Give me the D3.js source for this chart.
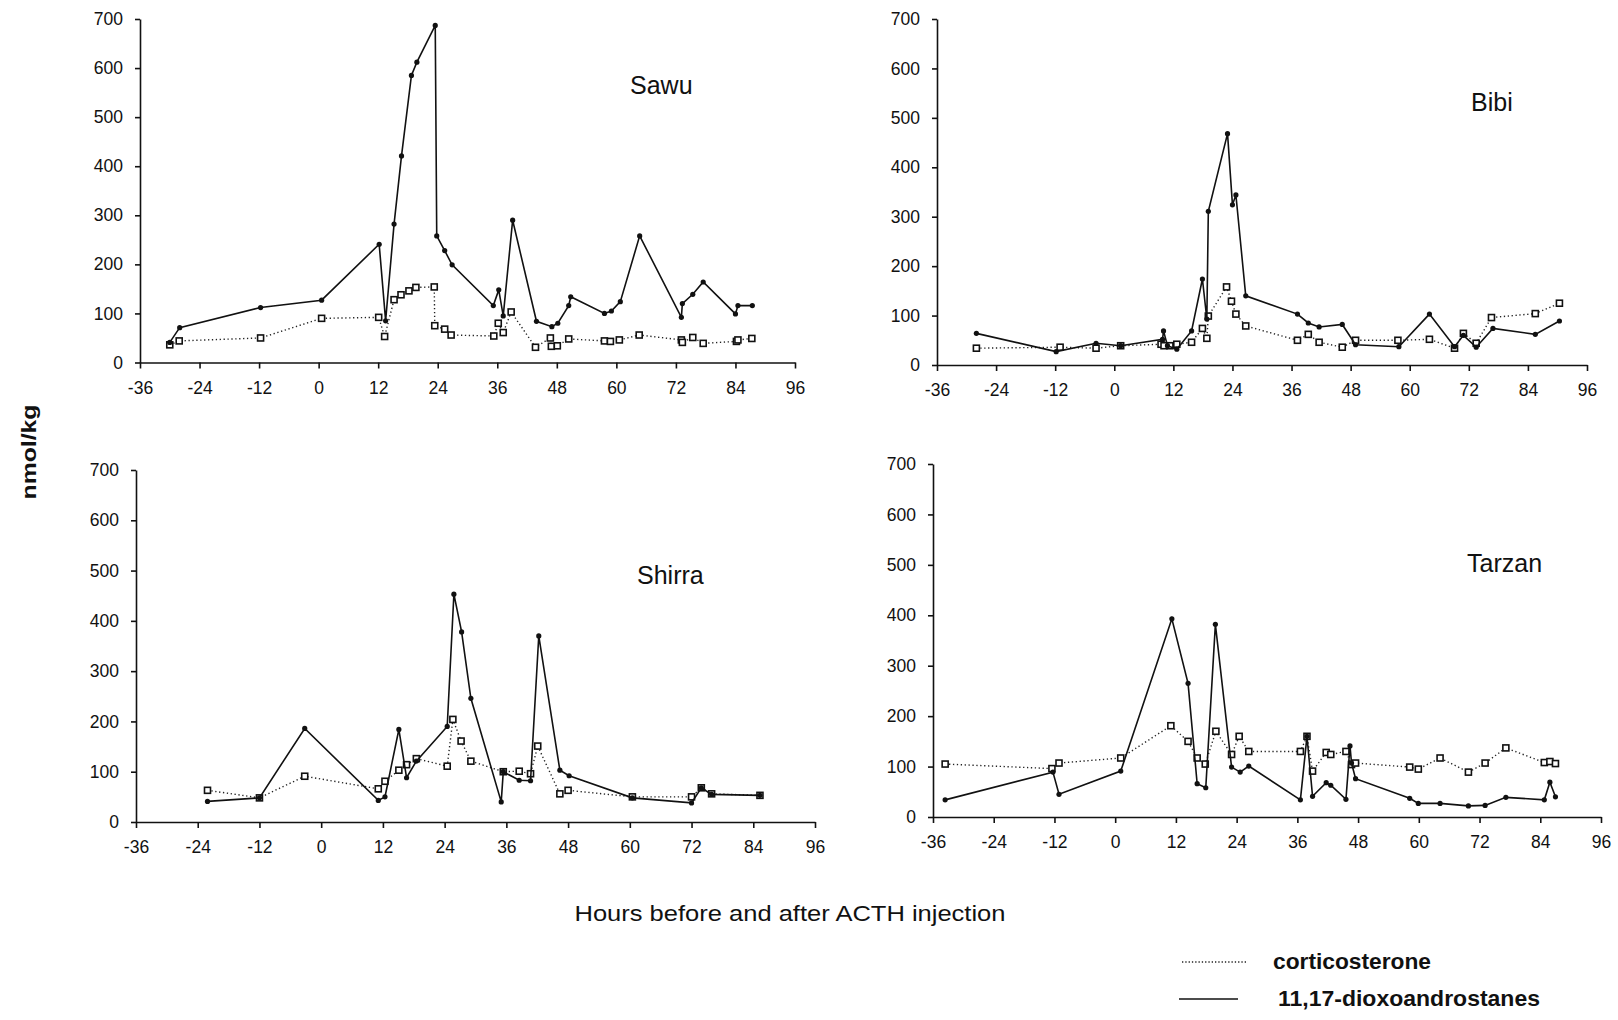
<!DOCTYPE html>
<html>
<head>
<meta charset="utf-8">
<script src="https://cdn.jsdelivr.net/npm/d3@7"></script>
<style>
	body { margin: 0; background: #fff; }
	text { font-family: "Liberation Sans", Arial, sans-serif; fill: #111; }
</style>
</head>
<body>
<svg id="chart" width="1618" height="1020"></svg>
<script>
"use strict";

/* global d3 */

// Tick labels
var hourTicks = [-36, -24, -12, 0, 12, 24, 36, 48, 60, 72, 84, 96];
var valueTicks = [0, 100, 200, 300, 400, 500, 600, 700];

// [hours, nmol/kg]
var sawuCort = [[-30,36],[-28.1,44],[-11.7,50],[0.6,90],[12.1,92],[13.3,53],[15.2,128],[16.6,138],
	[18.2,146],[19.6,153],[23.3,154],[23.4,75],[25.4,68],[26.7,56],[35.3,54],[36.2,80],[37.2,61],
	[38.8,103],[43.7,31],[46.7,50],[46.9,33],[48.1,34],[50.4,48],[57.6,44],[58.8,43],[60.6,46],
	[64.6,56],[73.1,46],[73.3,41],[75.4,51],[77.5,39],[84.2,43],[84.5,46],[87.3,49]];
var sawuAndro = [[-30,41],[-28,71],[-11.7,112],[0.6,127],[12.2,241],[13.5,85],[15.2,282],[16.7,421],
	[18.7,585],[19.8,612],[23.5,687],[23.8,258],[25.4,228],[26.9,199],[35.2,116],[36.3,148],[37.2,95],
	[39.1,290],[43.9,84],[47,73],[48.2,80],[50.4,116],[50.8,134],[57.6,100],[59,105],[60.8,124],
	[64.7,258],[73.1,92],[73.3,120],[75.4,139],[77.5,164],[84,99],[84.5,116],[87.4,116]];

var bibiCort = [[-28,34],[-11,36],[-3.7,34],[1.3,39],[9.5,42],[10.1,39],[11.3,39],[12.7,42],[15.7,46],
	[17.9,74],[18.8,54],[19.1,99],[22.8,158],[23.8,129],[24.7,103],[26.7,79],[37.2,50],[39.4,62],
	[41.6,46],[46.3,36],[49,50],[57.6,50],[64,52],[69.1,34],[70.9,64],[73.5,44],[76.6,96],[85.5,104],
	[90.4,125]];
var bibiAndro = [[-28,64],[-11.8,27],[-3.7,44],[1.3,39],[9.8,52],[10,69],[10.8,39],[12.7,32],[15.7,69],
	[17.9,174],[18.8,93],[19.1,311],[23,468],[24,324],[24.7,344],[26.7,140],[37.2,103],[39.4,85],
	[41.6,77],[46.3,82],[49,41],[57.8,37],[64,103],[69.1,37],[70.9,60],[73.5,36],[76.9,74],[85.5,62],
	[90.4,89]];

var shirraCort = [[-22.1,63],[-12,48],[-3.2,91],[11.1,66],[12.4,81],[15.1,103],[16.6,114],[18.5,126],
	[24.5,111],[25.6,204],[27.2,161],[29.1,121],[35.4,100],[38.5,101],[40.7,96],[42.1,151],[46.4,56],
	[48,63],[60.5,50],[72,50],[73.9,68],[75.9,56],[85.3,53]];
var shirraAndro = [[-22.1,41],[-12,48],[-3.2,186],[11.1,43],[12.4,50],[15.1,184],[16.6,88],[18.5,121],
	[24.5,190],[25.8,453],[27.3,378],[29.1,246],[35,40],[35.4,100],[38.5,83],[40.7,82],[42.3,370],
	[46.4,103],[48.2,92],[60.5,48],[72,38],[73.9,68],[75.9,55],[85.3,53]];

var tarzanCort = [[-33.6,105],[-12.5,96],[-11.1,107],[1.1,117],[11,181],[14.4,150],[16.2,117],[17.8,105],
	[19.9,170],[23,124],[24.5,160],[26.4,130],[36.6,130],[37.9,160],[39,91],[41.7,128],[42.6,124],
	[45.6,130],[46.7,104],[47.5,107],[58.2,99],[59.9,95],[64.2,117],[69.8,89],[73.1,107],[77.2,137],
	[84.8,108],[85.9,110],[87,106]];
var tarzanAndro = [[-33.6,34],[-12.3,89],[-11.1,45],[1.1,91],[11.2,393],[14.4,265],[16.2,66],[17.9,58],
	[19.8,382],[23,99],[24.7,89],[26.4,101],[36.6,34],[37.9,160],[39,41],[41.7,68],[42.6,63],[45.6,35],
	[46.4,141],[46.7,107],[47.5,76],[58.2,37],[59.9,27],[64.2,27],[69.8,22],[73.1,23],[77.2,39],
	[84.8,34],[85.9,69],[87,40]];

// Panel layout (pixels)
var panels = [
	{ name: "Sawu",   cort: sawuCort,   andro: sawuAndro,   x0: 140, x1: 795,  y0: 362.5, y1: 19,  tx: 630,  ty: 94 },
	{ name: "Bibi",   cort: bibiCort,   andro: bibiAndro,   x0: 937, x1: 1587, y0: 365,   y1: 19,  tx: 1471, ty: 111 },
	{ name: "Shirra", cort: shirraCort, andro: shirraAndro, x0: 136, x1: 815,  y0: 822,   y1: 470, tx: 637,  ty: 584 },
	{ name: "Tarzan", cort: tarzanCort, andro: tarzanAndro, x0: 933, x1: 1601, y0: 817,   y1: 464, tx: 1467, ty: 572 }
];

var svg = d3.select("#chart");

// Plain hyphen for negative numbers, as in the original figure
function plainNum(d) { return String(d); }

////////////////////////////////////////////////////////////////////////////////
// Draw one panel: axes, two series and the name of the animal
////////////////////////////////////////////////////////////////////////////////
function drawPanel(p) {
	var x = d3.scaleLinear().domain([-36, 96]).range([p.x0, p.x1]);
	var y = d3.scaleLinear().domain([0, 700]).range([p.y0, p.y1]);
	var g = svg.append("g").attr("class", "panel");

	// Axes
	var ax = g.append("g").attr("transform", "translate(0," + p.y0 + ")").
		call(d3.axisBottom(x).tickValues(hourTicks).tickFormat(plainNum).
			tickSize(6).tickPadding(13).tickSizeOuter(0));
	var ay = g.append("g").attr("transform", "translate(" + p.x0 + ",0)").
		call(d3.axisLeft(y).tickValues(valueTicks).tickFormat(plainNum).
			tickSize(5).tickPadding(12).tickSizeOuter(0));
	[ax, ay].forEach(function(a) {
		a.attr("font-family", null).attr("font-size", 17.5);
		a.selectAll("path, line").attr("stroke", "#111").attr("stroke-width", 1.6);
		a.selectAll("text").attr("fill", "#111");
	});

	var line = d3.line().x(function(d) { return x(d[0]); }).y(function(d) { return y(d[1]); });

	// corticosterone (dotted)
	g.append("path").datum(p.cort).attr("d", line).attr("fill", "none").
		attr("stroke", "#222").attr("stroke-width", 1.4).attr("stroke-dasharray", "1.3,2.6");
	g.selectAll(".cort").data(p.cort).enter().append("rect").attr("class", "cort").
		attr("x", function(d) { return x(d[0]) - 3; }).attr("y", function(d) { return y(d[1]) - 3; }).
		attr("width", 6).attr("height", 6).attr("fill", "#fff").attr("stroke", "#111").attr("stroke-width", 1.6);

	// 11,17-dioxoandrostanes (solid)
	g.append("path").datum(p.andro).attr("d", line).attr("fill", "none").
		attr("stroke", "#111").attr("stroke-width", 1.6);
	g.selectAll(".andro").data(p.andro).enter().append("circle").attr("class", "andro").
		attr("cx", function(d) { return x(d[0]); }).attr("cy", function(d) { return y(d[1]); }).
		attr("r", 2.6).attr("fill", "#111");

	g.append("text").attr("x", p.tx).attr("y", p.ty).attr("font-size", 25).text(p.name);
} // end function drawPanel(...)

panels.forEach(drawPanel);

// Axis titles
svg.append("text").attr("transform", "translate(36,452) rotate(-90)").
	attr("text-anchor", "middle").attr("font-size", 20).attr("font-weight", "bold").
	attr("textLength", 95).attr("lengthAdjust", "spacingAndGlyphs").text("nmol/kg");
svg.append("text").attr("x", 790).attr("y", 921).attr("text-anchor", "middle").attr("font-size", 22).
	attr("textLength", 431).attr("lengthAdjust", "spacingAndGlyphs").
	text("Hours before and after ACTH injection");

// Legend
var legend = svg.append("g").attr("class", "legend");
legend.append("line").attr("x1", 1182).attr("x2", 1247).attr("y1", 962).attr("y2", 962).
	attr("stroke", "#222").attr("stroke-width", 1.4).attr("stroke-dasharray", "1.3,2");
legend.append("text").attr("x", 1273).attr("y", 969).attr("font-size", 22).attr("font-weight", "bold").
	attr("textLength", 158).attr("lengthAdjust", "spacingAndGlyphs").text("corticosterone");
legend.append("line").attr("x1", 1179).attr("x2", 1238).attr("y1", 999).attr("y2", 999).
	attr("stroke", "#111").attr("stroke-width", 1.6);
legend.append("text").attr("x", 1278).attr("y", 1006).attr("font-size", 22).attr("font-weight", "bold").
	attr("textLength", 262).attr("lengthAdjust", "spacingAndGlyphs").text("11,17-dioxoandrostanes");
</script>
</body>
</html>
